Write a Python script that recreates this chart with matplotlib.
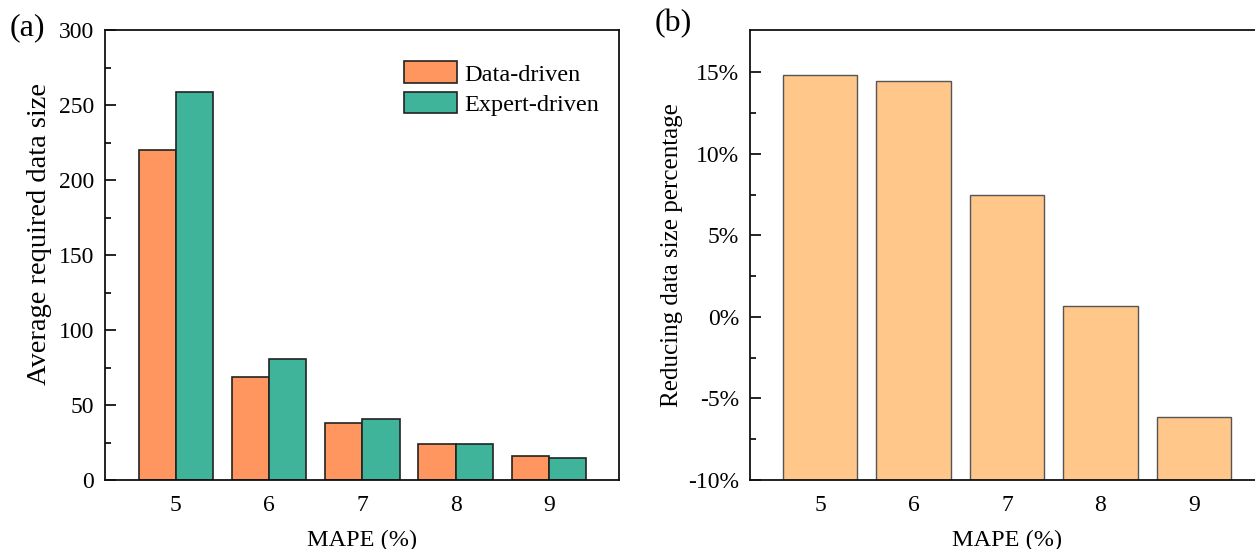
import matplotlib
matplotlib.use("Agg")
import matplotlib.pyplot as plt
from matplotlib.ticker import MultipleLocator, FixedLocator, FuncFormatter

plt.rcParams['font.family'] = ['Liberation Serif', 'DejaVu Serif']
plt.rcParams['font.size'] = 17

mape = [5, 6, 7, 8, 9]
data_driven = [220, 69, 38, 24, 16]
expert_driven = [259, 80.5, 41, 24, 15]
reduction_pct = [14.85, 14.45, 7.45, 0.65, -6.15]

c_data = "#FF955F"
c_expert = "#40B49B"
c_red = "#FFC88A"

fig = plt.figure(figsize=(12.55, 5.49), dpi=100)
H = 549.0
W = 1255.0
ax1 = fig.add_axes([105 / W, (H - 480) / H, (619 - 105) / W, 450 / H])
ax2 = fig.add_axes([750 / W, (H - 480) / H, (1264 - 750) / W, 450 / H])

bw = 0.4
ax1.bar([m - bw / 2 for m in mape], data_driven, width=bw, color=c_data,
        edgecolor="#222222", linewidth=1.2, label="Data-driven")
ax1.bar([m + bw / 2 for m in mape], expert_driven, width=bw, color=c_expert,
        edgecolor="#222222", linewidth=1.2, label="Expert-driven")
ax1.set_xlim(4.24, 9.75)
ax1.set_ylim(0, 300)
ax1.yaxis.set_major_locator(MultipleLocator(50))
ax1.yaxis.set_minor_locator(MultipleLocator(25))
ax1.set_xticks(mape)
ax1.set_ylabel("Average required data size", fontsize=20.5)
ax1.yaxis.set_label_coords((52 - 105) / 514, (480 - 234) / 450)
ax1.set_xlabel("MAPE (%)", fontsize=17.5, labelpad=10)
leg = ax1.legend(loc="upper right", bbox_to_anchor=(0.995, 0.968), frameon=False,
                 fontsize=17.5, handlelength=2.2, handleheight=1.0,
                 labelspacing=0.25, handletextpad=0.3, borderaxespad=0.3)

bottom = -10
ax2.bar(mape, [v - bottom for v in reduction_pct], bottom=bottom, width=0.8,
        color=c_red, edgecolor="#555555", linewidth=1.0)
ax2.set_xlim(4.25, 9.75)
ax2.set_ylim(-10, 17.6)
ax2.yaxis.set_major_locator(MultipleLocator(5))
ax2.yaxis.set_minor_locator(FixedLocator([-7.5, -2.5, 2.5, 7.5, 12.5]))
ax2.yaxis.set_major_formatter(FuncFormatter(lambda v, p: f"{v:.0f}%".replace("\u2212", "-")))
ax2.set_xticks(mape)
ax2.set_ylabel("Reducing data size percentage", fontsize=18)
ax2.yaxis.set_label_coords((683 - 750) / 514, 0.5)
ax2.set_xlabel("MAPE (%)", fontsize=17.5, labelpad=10)

for ax in (ax1, ax2):
    for s in ax.spines.values():
        s.set_linewidth(1.3)
        s.set_color("#111111")
    ax.tick_params(axis="y", which="major", direction="in", length=8, width=1.2, labelsize=17, pad=8)
    ax.tick_params(axis="y", which="minor", direction="in", length=4.5, width=1.2)
    ax.tick_params(axis="x", which="both", length=0, labelsize=17, pad=11)
    ax.tick_params(axis="y", which="both", right=False)

fig.text(10 / W, (H - 28) / H, "(a)", fontsize=23, va="center", ha="left")
fig.text(655 / W, (H - 24) / H, "(b)", fontsize=23, va="center", ha="left")

fig.savefig("out.png", dpi=100)
